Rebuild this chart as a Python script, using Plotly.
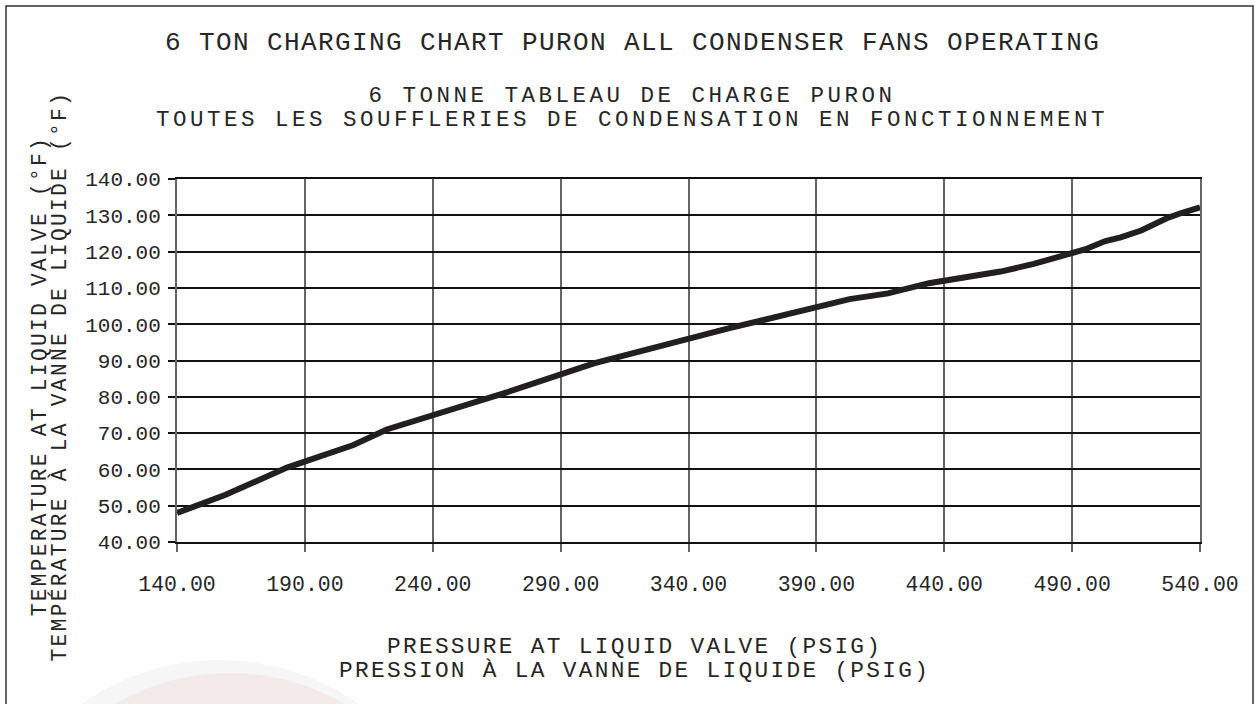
import plotly.graph_objects as go

# ---- data ----
pressure_psig = [140, 159, 183, 209, 222, 251, 268, 303, 356, 403, 418, 434,
                 462, 475, 487, 495, 503, 509, 517, 527, 533, 540]
temp_f = [48.0, 53.0, 60.5, 66.7, 71.0, 77.3, 81.0, 89.2, 98.9, 106.9, 108.5, 111.3,
          114.5, 116.6, 118.8, 120.6, 122.9, 123.9, 125.8, 129.2, 130.7, 132.2]

x_ticks = [140, 190, 240, 290, 340, 390, 440, 490, 540]
y_ticks = [40, 50, 60, 70, 80, 90, 100, 110, 120, 130, 140]

title_main = "6 TON CHARGING CHART PURON ALL CONDENSER FANS OPERATING"
title_sub = ["6 TONNE TABLEAU DE CHARGE PURON",
             "TOUTES LES SOUFFLERIES DE CONDENSATION EN FONCTIONNEMENT"]
x_title_lines = ["PRESSURE AT LIQUID VALVE (PSIG)", "PRESSION À LA VANNE DE LIQUIDE (PSIG)"]
y_title_lines = ["TEMPERATURE AT LIQUID VALVE (°F)", "TEMPÉRATURE À LA VANNE DE LIQUIDE (°F)"]

# ---- layout geometry (pixels) ----
W, H = 1255, 704
L, R, T, B = 177, 55, 179, 162
PW, PH = W - L - R, H - T - B
FONT = "Liberation Mono, DejaVu Sans Mono, monospace"
INK = "#262626"


def px_x(px):
    return (px - L) / PW


def px_y(py):
    return (H - B - py) / PH


def spaced(lines, size, spacing):
    return "<br>".join(
        f'<span style="font-size:{size}px;letter-spacing:{spacing}px">{t}</span>' for t in lines)


fig = go.Figure()
fig.add_trace(go.Scatter(
    x=pressure_psig, y=temp_f, mode="lines",
    line=dict(color="#231f20", width=6),
    hoverinfo="x+y", showlegend=False,
))

annotations = [
    dict(text=spaced([title_main], 26, 1.4), x=px_x(632), y=px_y(43),
         xref="paper", yref="paper", xanchor="center", yanchor="middle", showarrow=False,
         font=dict(family=FONT, size=26, color=INK)),
    dict(text=spaced(title_sub, 22.5, 3.5), x=px_x(632), y=px_y(108),
         xref="paper", yref="paper", xanchor="center", yanchor="middle", showarrow=False,
         align="center", font=dict(family=FONT, size=18.25, color=INK)),
    dict(text=spaced(x_title_lines, 22.8, 2.3), x=px_x(634), y=px_y(659),
         xref="paper", yref="paper", xanchor="center", yanchor="middle", showarrow=False,
         align="center", font=dict(family=FONT, size=18.5, color=INK)),
    dict(text=spaced(y_title_lines, 21.2, 2.3), x=px_x(50.4), y=px_y(376),
         xref="paper", yref="paper", xanchor="center", yanchor="middle", showarrow=False,
         align="center", textangle=-90, font=dict(family=FONT, size=15.4, color=INK)),
]

shapes = [
    # faint watermark at bottom left
    dict(type="circle", xref="paper", yref="paper", layer="below",
         x0=px_x(-20), x1=px_x(460), y0=px_y(1140), y1=px_y(660),
         fillcolor="rgba(0,0,0,0.035)", line=dict(width=0)),
    dict(type="circle", xref="paper", yref="paper", layer="below",
         x0=px_x(3), x1=px_x(457), y0=px_y(1127), y1=px_y(673),
         fillcolor="rgba(225,80,80,0.07)", line=dict(width=0)),
    # outer frame
    dict(type="rect", xref="paper", yref="paper",
         x0=px_x(6), x1=px_x(1253), y0=px_y(720), y1=px_y(6),
         line=dict(color="#333333", width=1.5), fillcolor="rgba(0,0,0,0)"),
]

fig.update_layout(
    width=W, height=H,
    margin=dict(l=L, r=R, t=T, b=B, pad=0),
    paper_bgcolor="white", plot_bgcolor="white",
    font=dict(family=FONT, color=INK),
    annotations=annotations, shapes=shapes,
    showlegend=False,
)
fig.update_xaxes(
    range=[140, 540], tickvals=x_ticks, ticktext=[f"{v:.2f}" for v in x_ticks],
    showgrid=True, gridcolor="#666666", gridwidth=2,
    showline=True, linecolor="#111111", linewidth=1.5, mirror=True,
    ticks="outside", ticklen=8, tickwidth=2, tickcolor="#666666",
    tickfont=dict(family=FONT, size=21.5, color=INK), ticklabelstandoff=13,
    zeroline=False, fixedrange=True,
)
fig.update_yaxes(
    range=[40, 140], tickvals=y_ticks, ticktext=[f"{v:.2f}" for v in y_ticks],
    showgrid=True, gridcolor="#111111", gridwidth=1.5,
    showline=True, linecolor="#666666", linewidth=2, mirror=True,
    ticks="outside", ticklen=7, tickwidth=1.5, tickcolor="#111111",
    tickfont=dict(family=FONT, size=21, color=INK), ticklabelstandoff=3,
    zeroline=False, fixedrange=True,
)

fig.write_html("out.html", config={"displayModeBar": False},
               post_script="document.body.style.margin='0px';document.body.style.overflow='hidden';")
